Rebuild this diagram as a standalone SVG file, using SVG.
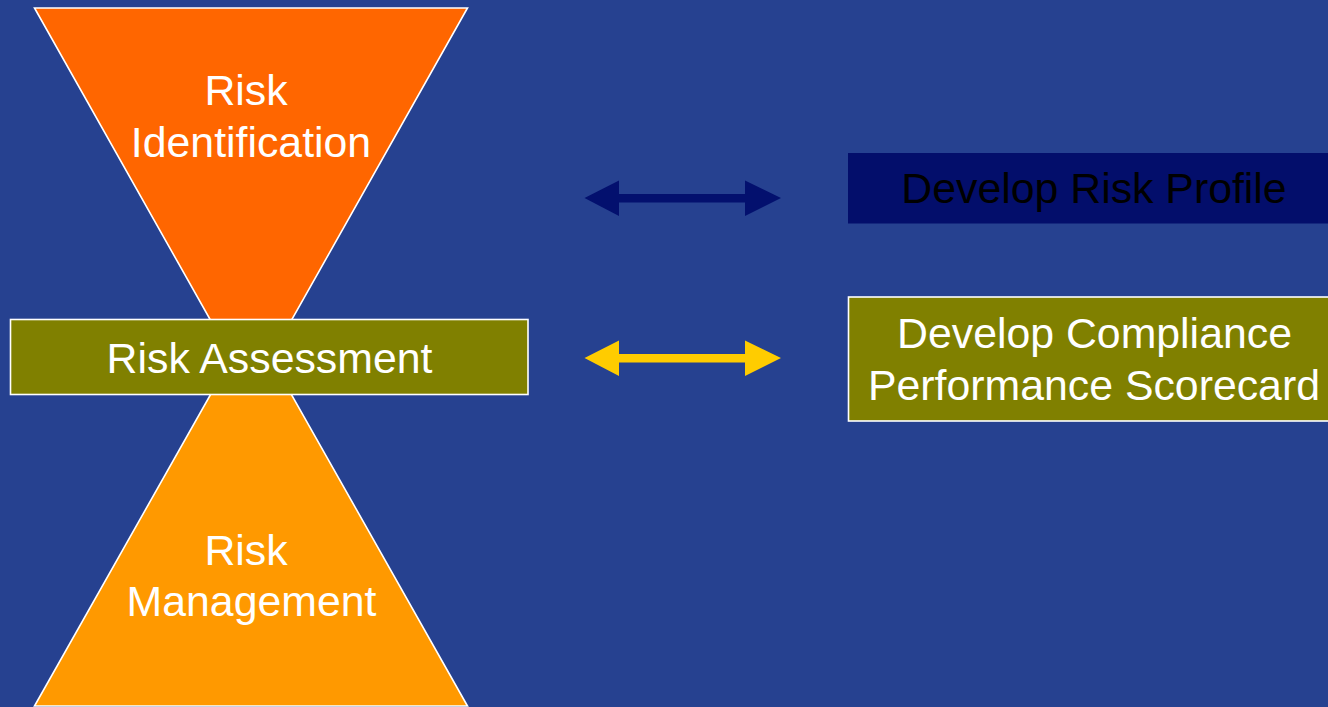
<svg xmlns="http://www.w3.org/2000/svg" width="1328" height="707" viewBox="0 0 1328 707">
<style>
text{font-family:"Liberation Sans",Arial,sans-serif;font-size:42.8px;text-anchor:middle}
.w{fill:#FFFFFF}
.k{fill:#000000}
.edge{stroke:#FFFFFF;stroke-width:1.6}
</style>
<rect x="0" y="0" width="1328" height="707" fill="#264190"/>
<g id="risk-identification">
<polygon class="edge" points="34.5,8 467.5,8 251,392" fill="#FF6600"/>
<text class="w" x="246" y="105">Risk</text>
<text class="w" x="251" y="157">Identification</text>
</g>
<g id="risk-management">
<polygon class="edge" points="34.5,706 467.5,706 251,323" fill="#FF9900"/>
<text class="w" x="246" y="565">Risk</text>
<text class="w" x="251.5" y="616">Management</text>
</g>
<g id="risk-assessment">
<rect class="edge" x="10.5" y="319.5" width="517.5" height="75" fill="#808000"/>
<text class="w" x="269.5" y="372.5">Risk Assessment</text>
</g>
<g id="connectors">
<polygon points="584.5,198 619,180.5 619,194 745,194 745,180.5 781,198 745,216 745,202.5 619,202.5 619,216" fill="#03106E"/>
<polygon points="584.5,358 619,340.5 619,354 745,354 745,340.5 781,358 745,376 745,362.5 619,362.5 619,376" fill="#FFCC00"/>
</g>
<g id="develop-risk-profile">
<rect x="848" y="153" width="490" height="70.5" fill="#030E6B"/>
<text class="k" x="1094" y="203">Develop Risk Profile</text>
</g>
<g id="compliance-scorecard">
<rect class="edge" x="848.5" y="297" width="492" height="124" fill="#808000" stroke-width="2"/>
<text class="w" x="1094.5" y="348">Develop Compliance</text>
<text class="w" x="1094" y="400">Performance Scorecard</text>
</g>
</svg>
